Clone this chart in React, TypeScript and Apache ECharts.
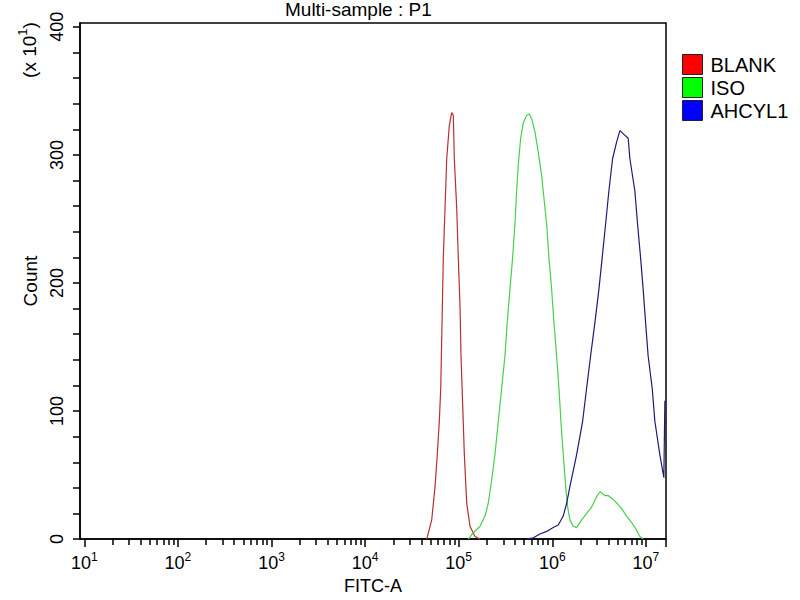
import React, { useEffect, useRef } from "react";
import * as echarts from "echarts";

const FONT = "Liberation Sans, Arial, sans-serif";
const TITLE = "Multi-sample : P1";
const X_NAME = "FITC-A";
const Y_NAME = "Count";
const Y_MULT = "{b|(x 10}{s|1}{b|)}";
const SERIES_NAMES = ["BLANK", "ISO", "AHCYL1"];
const LINE_COLORS = ["#b83030", "#48d048", "#1c1c78"];
const LEGEND_COLORS = ["#ff0000", "#00ff00", "#0000ff"];

const X_MIN = 9;
const X_MAX = 1.64e7;
const X_DECADES = [1, 2, 3, 4, 5, 6, 7];
const X_MINOR_MULTS = [2, 3, 4, 5, 6, 7, 8, 9];
const Y_MAX = 403;
const Y_LABELS = [0, 100, 200, 300, 400];
const Y_TICKS = [0, 20, 40, 60, 80, 100, 120, 140, 160, 180, 200, 220, 240, 260, 280, 300, 320, 340, 360, 380, 400];

const BLANK_X = [45600, 51500, 55900, 59100, 62100, 64300, 66400, 68500, 71500, 74500, 79400, 84200, 87600, 89800, 95200, 99000, 103300, 105900, 110300, 114900, 121900, 132100, 149300, 169000];
const BLANK_Y = [0, 15, 41, 66, 92, 118, 169, 220, 259, 297, 323, 333, 331, 297, 259, 220, 182, 143, 105, 66, 28, 10, 2, 0];

const ISO_X = [126700, 143300, 169000, 191000, 207000, 225000, 244000, 265000, 288000, 312000, 330000, 353000, 377000, 399000, 416000, 433000, 459000, 490000, 532000, 567000, 603000, 653000, 708000, 769000, 815000, 871000, 920000, 984000, 1042000, 1112000, 1178000, 1236000, 1309000, 1390000, 1459000, 1542000, 1675000, 1820000, 2057000, 2328000, 2630000, 2972000, 3228000, 3648000, 3954000, 4477000, 5058000, 5495000, 6223000, 7031000, 7943000, 8630000, 9354000];
const ISO_Y = [0, 5, 10, 18, 28, 46, 66, 92, 118, 143, 169, 195, 220, 246, 272, 292, 313, 325, 331, 332, 328, 318, 302, 284, 266, 246, 220, 195, 169, 143, 118, 92, 66, 41, 25, 15, 10, 9, 15, 20, 25, 33, 37, 34, 34, 31, 27, 24, 18, 13, 7, 2, 0];

const AHCYL1_X = [532000, 627000, 738000, 871000, 1023000, 1158000, 1309000, 1424000, 1542000, 1820000, 2109000, 2328000, 2566000, 2852000, 3148000, 3414000, 3713000, 4027000, 4406000, 4864000, 5272000, 5821000, 6471000, 6745000, 7621000, 8147000, 8770000, 9354000, 9931000, 10570000, 11670000, 12470000, 14090000, 15560000, 15950000];
const AHCYL1_Y = [0, 1, 4, 6, 9, 11, 18, 28, 41, 66, 92, 118, 143, 169, 195, 220, 246, 272, 297, 310, 319, 316, 313, 297, 272, 246, 220, 195, 169, 143, 118, 92, 66, 48, 108];

const SERIES_X = [BLANK_X, ISO_X, AHCYL1_X];
const SERIES_Y = [BLANK_Y, ISO_Y, AHCYL1_Y];

export default function App() {
  const ref = useRef<HTMLDivElement>(null);
  useEffect(() => {
    document.body.style.margin = "0";
    if (!ref.current) return;
    const chart = echarts.init(ref.current, null, { renderer: "svg" });
    const lg = (v: number) => Math.log10(v);
    const xMin = lg(X_MIN);
    const xMax = lg(X_MAX);
    const majorTicks = [...X_DECADES, xMax];
    const minorTicks: number[] = [];
    X_DECADES.forEach((d) => X_MINOR_MULTS.forEach((m) => {
      const v = d + lg(m);
      if (v > xMin && v < xMax) minorTicks.push(v);
    }));
    const black = { color: "#000", width: 1.5 };
    chart.setOption({
      animation: false,
      textStyle: { fontFamily: FONT },
      grid: { left: 80, top: 23, width: 586, height: 520, show: true, borderColor: "#000", borderWidth: 1.5 },
      legend: {
        orient: "vertical",
        left: 682,
        top: 54,
        padding: 0,
        itemWidth: 20,
        itemHeight: 20,
        itemGap: 2,
        selectedMode: false,
        textStyle: { fontSize: 20, lineHeight: 20, color: "#000", fontFamily: FONT, padding: [0, 0, 0, 3] },
        data: SERIES_NAMES.map((n, i) => ({
          name: n,
          icon: "rect",
          itemStyle: { color: LEGEND_COLORS[i], borderColor: "#222", borderWidth: 1 },
        })),
      },
      xAxis: [
        {
          type: "value",
          min: xMin,
          max: xMax,
          name: X_NAME,
          nameLocation: "middle",
          nameGap: 36,
          nameTextStyle: { fontSize: 18, color: "#000", fontFamily: FONT },
          axisLine: { show: true, lineStyle: black },
          axisTick: { show: true, customValues: majorTicks, length: 8, lineStyle: black },
          axisLabel: {
            customValues: X_DECADES,
            margin: 12,
            formatter: (v: number) => `{b|10}{s|${Math.round(v)}}`,
            rich: {
              b: { fontSize: 18, lineHeight: 24, color: "#000", fontFamily: FONT },
              s: { fontSize: 12, lineHeight: 10, verticalAlign: "top", color: "#000", fontFamily: FONT },
            },
          },
          splitLine: { show: false },
        },
        {
          type: "value",
          min: xMin,
          max: xMax,
          position: "bottom",
          axisLine: { show: false },
          axisTick: { show: true, customValues: minorTicks, length: 6, lineStyle: black },
          axisLabel: { show: false },
          splitLine: { show: false },
        },
      ],
      yAxis: {
        type: "value",
        min: 0,
        max: Y_MAX,
        name: Y_NAME,
        nameLocation: "middle",
        nameRotate: 90,
        nameGap: 40,
        nameTextStyle: { fontSize: 19, color: "#000", fontFamily: FONT },
        axisLine: { show: true, lineStyle: black },
        axisTick: { show: true, customValues: Y_TICKS, length: 7, lineStyle: black },
        axisLabel: { customValues: Y_LABELS, rotate: 90, margin: 14, fontSize: 18, color: "#000", fontFamily: FONT },
        splitLine: { show: false },
      },
      graphic: [
        {
          type: "text",
          x: 285,
          y: 9.5,
          style: { text: TITLE, fontSize: 19, fontFamily: FONT, fill: "#000", align: "left", verticalAlign: "middle" },
        },
        {
          type: "text",
          x: 29,
          y: 50,
          rotation: Math.PI / 2,
          style: {
            text: Y_MULT,
            align: "center",
            verticalAlign: "middle",
            fill: "#000",
            rich: {
              b: { fontSize: 19, lineHeight: 26, fill: "#000", fontFamily: FONT },
              s: { fontSize: 13, lineHeight: 11, verticalAlign: "top", fill: "#000", fontFamily: FONT },
            },
          },
        },
      ],
      series: SERIES_NAMES.map((n, i) => ({
        name: n,
        type: "line",
        xAxisIndex: 0,
        yAxisIndex: 0,
        showSymbol: false,
        symbol: "none",
        color: LINE_COLORS[i],
        lineStyle: { width: 1.2, color: LINE_COLORS[i] },
        data: SERIES_X[i].map((x, j) => [lg(x), SERIES_Y[i][j]]),
      })),
    });
    return () => chart.dispose();
  }, []);
  return <div ref={ref} style={{ width: 800, height: 600 }} />;
}
